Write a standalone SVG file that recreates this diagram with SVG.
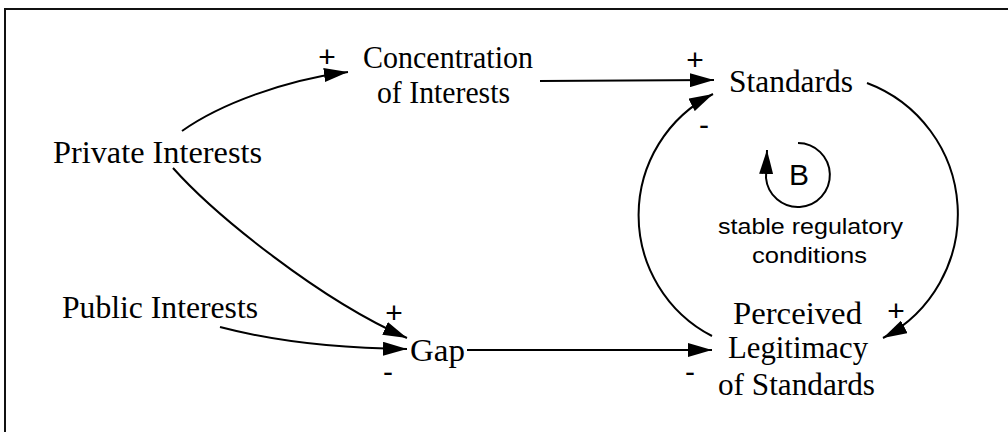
<svg xmlns="http://www.w3.org/2000/svg" width="1008" height="432" viewBox="0 0 1008 432">
<defs>
<style>
.frame{stroke:#111;stroke-width:2;fill:none}
.link{stroke:#000;stroke-width:2;fill:none;marker-end:url(#ah)}
.node{font-family:"Liberation Serif","Times New Roman",serif;font-size:32px;fill:#000}
.sans{font-family:"Liberation Sans",Arial,sans-serif;fill:#000}
.sign{font-family:"Liberation Sans",Arial,sans-serif;font-size:30px;fill:#000;text-anchor:middle}
</style>
<marker id="ah" markerUnits="userSpaceOnUse" markerWidth="24" markerHeight="14" refX="24" refY="7" orient="auto">
<path d="M0,0 L24,7 L0,14 z" fill="#000"/>
</marker>
</defs>
<rect width="1008" height="432" fill="#fff"/>
<path class="frame" d="M5,432 L5,9 L1008,9"/>

<g id="connectors">
<path class="link" d="M182,131 C220,104 285,80 348,72"/>
<path class="link" d="M540,81 L714,80"/>
<path class="link" d="M173,168 C215,215 320,300 407,338"/>
<path class="link" d="M220,327 Q300,348 407,349"/>
<path class="link" d="M467,350 L712,350"/>
<path class="link" d="M712,336 A136,136 0 0 1 713,94"/>
<path class="link" d="M867,83 A140,140 0 0 1 883,338"/>
<path class="link" d="M798,143 A32,32 0 1 1 766,178 L767,150"/>
</g>

<g id="signs">
<text class="sign" x="327" y="67">+</text>
<text class="sign" x="695" y="70">+</text>
<text class="sign" x="704" y="135">-</text>
<text class="sign" x="394" y="323">+</text>
<text class="sign" x="388" y="382">-</text>
<text class="sign" x="896" y="321">+</text>
<text class="sign" x="690" y="382">-</text>
</g>

<g id="concentration">
<text class="node" x="363" y="68" textLength="170" lengthAdjust="spacingAndGlyphs">Concentration</text>
<text class="node" x="377" y="103" textLength="133" lengthAdjust="spacingAndGlyphs">of Interests</text>
</g>
<g id="standards">
<text class="node" x="729" y="92" textLength="124" lengthAdjust="spacingAndGlyphs">Standards</text>
</g>
<g id="private-interests">
<text class="node" x="53" y="163" textLength="209" lengthAdjust="spacingAndGlyphs">Private Interests</text>
</g>
<g id="public-interests">
<text class="node" x="62" y="318" textLength="196" lengthAdjust="spacingAndGlyphs">Public Interests</text>
</g>
<g id="gap">
<text class="node" x="410" y="361" textLength="55" lengthAdjust="spacingAndGlyphs">Gap</text>
</g>
<g id="perceived-legitimacy">
<text class="node" x="733" y="324" textLength="129" lengthAdjust="spacingAndGlyphs">Perceived</text>
<text class="node" x="728" y="358" textLength="140" lengthAdjust="spacingAndGlyphs">Legitimacy</text>
<text class="node" x="718" y="395" textLength="157" lengthAdjust="spacingAndGlyphs">of Standards</text>
</g>
<g id="loop-b">
<text class="sans" x="799" y="185" font-size="30" text-anchor="middle">B</text>
<text class="sans" x="718" y="234" font-size="22" textLength="185" lengthAdjust="spacingAndGlyphs">stable regulatory</text>
<text class="sans" x="752" y="263" font-size="22" textLength="115" lengthAdjust="spacingAndGlyphs">conditions</text>
</g>
</svg>
